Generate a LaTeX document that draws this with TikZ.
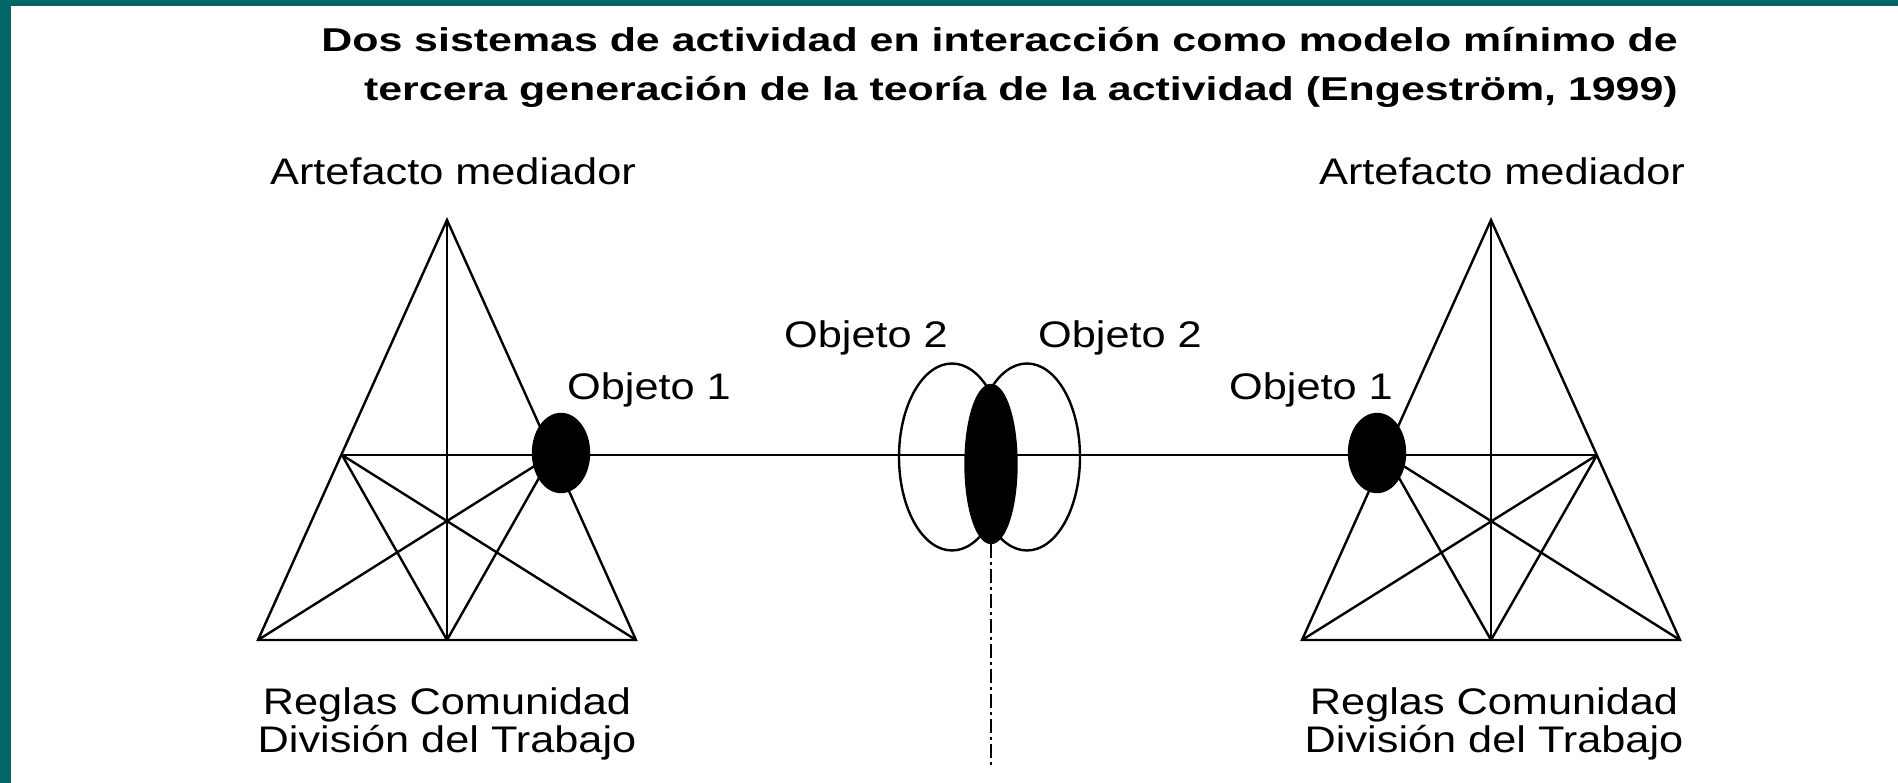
\documentclass[tikz,border=0pt]{standalone}
\usepackage{fontspec}
\setmainfont{Liberation Sans}
\newfontfamily\labelfont{Liberation Sans}[FakeStretch=1.17]
\newfontfamily\titlefont{Liberation Sans}[FakeStretch=1.3]
\usetikzlibrary{shapes.geometric}
\definecolor{marco}{RGB}{0,102,102}

\begin{document}
\begin{tikzpicture}
        [x = 1pt, y = 1pt,
            line width = 2.4pt,
            obj node/.style = {ellipse, draw, fill=black, inner sep=0pt},
            lazo node/.style = {ellipse, draw, inner sep=0pt, minimum width=106pt, minimum height=187pt},
            label node/.style = {font=\labelfont\fontsize{37}{38}\selectfont, inner sep=0pt, align=center},
            dash dot line/.style = {line width=2pt, dash pattern=on 14pt off 4pt on 3pt off 4pt}]

        \useasboundingbox (0,0) rectangle (1898,783);
        \fill[marco] (0,0) rectangle (11,783);
        \fill[marco] (0,777) rectangle (1898,783);

        % sistema izquierdo
        \coordinate (A1) at (447,563);
        \coordinate (BL1) at (258,143);
        \coordinate (BM1) at (447,143);
        \coordinate (BR1) at (636,143);
        \coordinate (LM1) at (342,328);
        \coordinate (RM1) at (552,328);

        % sistema derecho
        \coordinate (A2) at (1491,563);
        \coordinate (BL2) at (1302,143);
        \coordinate (BM2) at (1491,143);
        \coordinate (BR2) at (1680,143);
        \coordinate (LM2) at (1386,328);
        \coordinate (RM2) at (1597,328);

        \draw (A1) -- (BL1) -- (BR1) -- cycle;
        \draw (A1) -- (BM1);
        \draw (LM1) -- (BM1) (LM1) -- (BR1) (RM1) -- (BM1) (RM1) -- (BL1);

        \draw (A2) -- (BL2) -- (BR2) -- cycle;
        \draw (A2) -- (BM2);
        \draw (LM2) -- (BM2) (LM2) -- (BR2) (RM2) -- (BM2) (RM2) -- (BL2);

        \draw (LM1) -- (RM2);

        \node[obj node, minimum width=56pt, minimum height=78pt] (obj1a) at (561,330) {};
        \node[obj node, minimum width=56pt, minimum height=78pt] (obj1b) at (1377,330) {};

        \node[lazo node] (lazo1) at (952,326) {};
        \node[lazo node] (lazo2) at (1027,326) {};
        \node[obj node, minimum width=51pt, minimum height=158pt] (obj2) at (991,319) {};

        \coordinate (fin) at (obj2.south |- 0,18);
        \draw[dash dot line] (obj2.south) -- (fin);

        \node[anchor=north east, align=right, inner sep=0pt,
            font=\titlefont\bfseries\fontsize{33}{49}\selectfont] (titulo) at (1679,757)
            {Dos sistemas de actividad en interacción como modelo mínimo de\\
             tercera generación de la teoría de la actividad (Engeström, 1999)};

        \node[label node, anchor=base] (artefacto1) at (453,598) {Artefacto mediador};
        \node[label node, anchor=base] (artefacto2) at (1502,598) {Artefacto mediador};
        \node[label node, anchor=base] (objeto1a) at (649,383) {Objeto 1};
        \node[label node, anchor=base] (objeto1b) at (1311,383) {Objeto 1};
        \node[label node, anchor=base] (objeto2a) at (866,435) {Objeto 2};
        \node[label node, anchor=base] (objeto2b) at (1120,435) {Objeto 2};
        \node[label node, anchor=north] (reglas1) at (447,97) {Reglas Comunidad\\División del Trabajo};
        \node[label node, anchor=north] (reglas2) at (1494,97) {Reglas Comunidad\\División del Trabajo};
    \end{tikzpicture}
\end{document}
